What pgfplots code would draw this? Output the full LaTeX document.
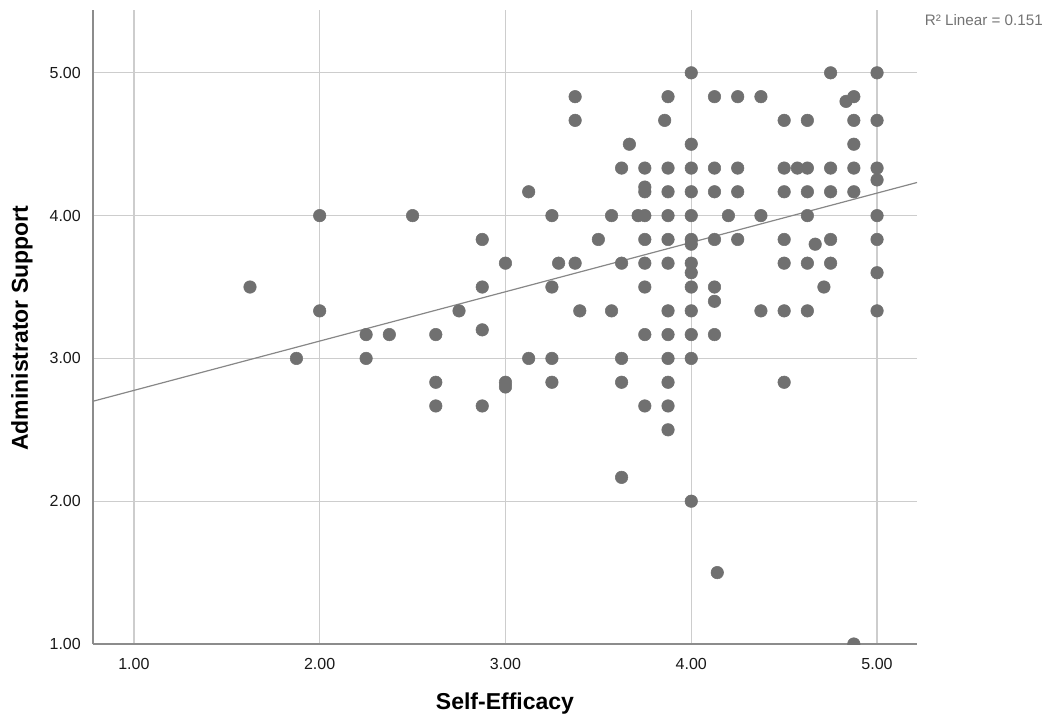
\documentclass[border=0pt]{standalone}
\usepackage{fontspec}
\setmainfont{Liberation Sans}
\usepackage{pgfplots}
\pgfplotsset{compat=1.18}
\definecolor{dotc}{RGB}{112,112,112}
\definecolor{axisc}{RGB}{140,140,140}
\definecolor{gridc}{RGB}{205,205,205}
\definecolor{linec}{RGB}{135,135,135}
\begin{document}
\begin{tikzpicture}
\path[use as bounding box] (-69.75pt,-56.25pt) rectangle (715.5pt,483pt);
\begin{axis}[
  at={(0,0)}, anchor=south west,
  scale only axis, width=618pt, height=475.5pt,
  xmin=0.78, xmax=5.215, ymin=1, ymax=5.44,
  clip marker paths=true,
  axis x line=bottom, axis y line=left,
  axis line style={-, draw=axisc, line width=1.5pt},
  xtick={1,2,3,4,5}, ytick={1,2,3,4,5},
  xticklabels={1.00,2.00,3.00,4.00,5.00},
  yticklabels={1.00,2.00,3.00,4.00,5.00},
  tick style={draw=none},
  grid=major, major grid style={draw=gridc, line width=1pt},
  ticklabel style={font=\fontsize{12}{14}\selectfont, text=black!90},
  xticklabel style={yshift=-5pt},
  yticklabel style={xshift=-3.5pt},
  xlabel={Self-Efficacy}, ylabel={Administrator Support},
  label style={font=\fontsize{17.25}{20}\selectfont\bfseries},
  xlabel style={at={(axis description cs:0.5,-0.094)}, anchor=center},
  ylabel style={at={(axis description cs:-0.0862,0.498)}, anchor=center},
]
\addplot[no marks, draw=linec, line width=0.9pt] coordinates {(0.78,2.70) (5.215,4.232)};
\addplot[only marks, mark=*, mark size=4.7pt, draw=dotc, fill=dotc] coordinates {
(1.625,3.5) (1.875,3.0)
(2.0,4.0) (2.0,3.333)
(2.25,3.167) (2.25,3.0)
(2.375,3.167) (2.5,4.0)
(2.625,3.167) (2.625,2.833) (2.625,2.667)
(2.75,3.333)
(2.875,3.833) (2.875,3.5) (2.875,3.2) (2.875,2.667)
(3.0,3.667) (3.0,2.833) (3.0,2.8)
(3.125,4.167) (3.125,3.0)
(3.25,4.0) (3.25,3.5) (3.25,3.0) (3.25,2.833)
(3.286,3.667)
(3.375,4.833) (3.375,4.667) (3.375,3.667)
(3.4,3.333) (3.5,3.833)
(3.571,4.0) (3.571,3.333)
(3.625,4.333) (3.625,3.667) (3.625,3.0) (3.625,2.833) (3.625,2.167)
(3.667,4.5) (3.714,4.0)
(3.75,4.333) (3.75,4.2) (3.75,4.167) (3.75,4.0) (3.75,3.833) (3.75,3.667) (3.75,3.5) (3.75,3.167) (3.75,2.667)
(3.857,4.667)
(3.875,4.833) (3.875,4.333) (3.875,4.167) (3.875,4.0) (3.875,3.833) (3.875,3.667) (3.875,3.333) (3.875,3.167) (3.875,3.0) (3.875,2.833) (3.875,2.667) (3.875,2.5)
(4.0,5.0) (4.0,4.5) (4.0,4.333) (4.0,4.167) (4.0,4.0) (4.0,3.833) (4.0,3.8) (4.0,3.667) (4.0,3.6) (4.0,3.5) (4.0,3.333) (4.0,3.167) (4.0,3.0) (4.0,2.0)
(4.125,4.833) (4.125,4.333) (4.125,4.167) (4.125,3.833) (4.125,3.5) (4.125,3.4) (4.125,3.167)
(4.14,1.5) (4.2,4.0)
(4.25,4.833) (4.25,4.333) (4.25,4.167) (4.25,3.833)
(4.375,4.833) (4.375,4.0) (4.375,3.333)
(4.5,4.667) (4.5,4.333) (4.5,4.167) (4.5,3.833) (4.5,3.667) (4.5,3.333) (4.5,2.833)
(4.571,4.333)
(4.625,4.667) (4.625,4.333) (4.625,4.167) (4.625,4.0) (4.625,3.667) (4.625,3.333)
(4.667,3.8) (4.714,3.5)
(4.75,5.0) (4.75,4.333) (4.75,4.167) (4.75,3.833) (4.75,3.667)
(4.833,4.8)
(4.875,4.833) (4.875,4.667) (4.875,4.5) (4.875,4.333) (4.875,4.167) (4.875,1.0)
(5.0,5.0) (5.0,4.667) (5.0,4.333) (5.0,4.25) (5.0,4.0) (5.0,3.833) (5.0,3.6) (5.0,3.333)
};
\end{axis}
\node[anchor=east, font=\fontsize{11.4}{13}\selectfont, text=black!55, inner sep=0pt] at (712.5pt,468pt) {R² Linear = 0.151};
\end{tikzpicture}
\end{document}
